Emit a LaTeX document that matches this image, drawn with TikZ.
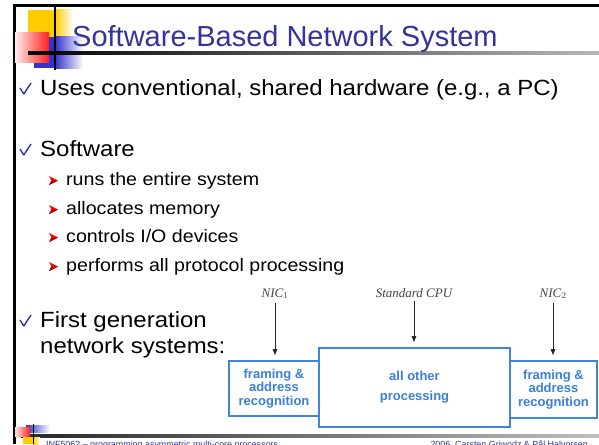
\documentclass[tikz,border=0pt]{standalone}
\usepackage{fontspec}
\setmainfont{Liberation Sans}
\newfontfamily\bodyfont[FakeStretch=1.09]{Liberation Sans}
\newfontfamily\labelfont{Liberation Serif}
\usetikzlibrary{arrows.meta,calc}
\definecolor{titleblue}{HTML}{333399}
\definecolor{logoyellow}{HTML}{FFCC00}
\definecolor{logoblue}{HTML}{3333CC}
\definecolor{logored}{HTML}{FF2020}
\definecolor{checkblue}{HTML}{3333AA}
\definecolor{boxblue}{HTML}{3D86DA}
\definecolor{boxtext}{HTML}{3A80D6}
\definecolor{labelgray}{HTML}{444444}
\tikzset{
  body/.style={anchor=base west, inner sep=0pt, font=\bodyfont\fontsize{22}{26}\selectfont},
  subbody/.style={anchor=base west, inner sep=0pt, font=\bodyfont\fontsize{18}{22}\selectfont},
  unitbox/.style={draw=boxblue, line width=1.8pt, fill=white, align=center,
    text=boxtext, font=\bfseries\fontsize{13}{13.8}\selectfont, inner sep=0pt},
  niclabel/.style={anchor=base, inner sep=0pt, text=labelgray,
    font=\labelfont\itshape\fontsize{13}{14}\selectfont},
  feed/.style={draw=black!85, line width=0.8pt, -{Triangle[length=6pt,width=4.5pt]}},
  footertext/.style={anchor=base west, inner sep=0pt, text=titleblue,
    font=\fontsize{8.9}{10}\selectfont},
}
% checkmark bullet at base point
\newcommand{\checkbullet}[2]{%
  \draw[checkblue, line width=1.4pt, line join=round] (#1,#2-7) -- (#1+3.8,#2-1) -- (#1+11,#2-12);}
% red arrowhead sub-bullet
\newcommand{\arrowbullet}[2]{%
  \fill[red] (#1,#2-9) -- (#1+9,#2-4.5) -- (#1,#2) -- (#1+2.5,#2-4.5) -- cycle;
  \fill[red!70!black] (#1+2.5,#2-4.5) -- (#1+9,#2-4.5) -- (#1,#2) -- cycle;}
\begin{document}
\begin{tikzpicture}[x=1pt,y=-1pt]
\useasboundingbox (0,0) rectangle (599,444);
\begin{scope}
\clip (0,0) rectangle (599,444);
\fill[white] (0,0) rectangle (599,444);

% slide frame
\fill[black] (13,4.5) rectangle (599,7);
\fill[black] (13,4.5) rectangle (15.5,444);

% title logo
\fill[logoyellow] (28,10) rectangle (55,37);
\shade[left color=logoyellow, right color=white] (55,10) rectangle (73,37);
\fill[logoblue] (34,37) rectangle (55,68);
\shade[left color=logoblue, right color=white] (55,37) rectangle (83,68);
\shade[left color=red!8, right color=logored] (15,33) rectangle (49,62);
\shade[left color=black, right color=black!28] (28,52) rectangle (599,55);
\fill[black] (54.3,7) rectangle (56,70);

% title
\node[anchor=base west, inner sep=0pt, text=titleblue, font=\fontsize{29}{32}\selectfont]
  (title) at (72,47) {Software-Based Network System};

% bullets
\checkbullet{20}{95}
\node[body] (b1) at (40,95) {Uses conventional, shared hardware (e.g., a PC)};
\checkbullet{20}{156}
\node[body] (b2) at (40,156) {Software};
\arrowbullet{49}{185}
\node[subbody] (s1) at (66,185) {runs the entire system};
\arrowbullet{49}{214}
\node[subbody] (s2) at (66,214) {allocates memory};
\arrowbullet{49}{242}
\node[subbody] (s3) at (66,242) {controls I/O devices};
\arrowbullet{49}{271}
\node[subbody] (s4) at (66,271) {performs all protocol processing};
\checkbullet{20}{327}
\node[body] (b3) at (40,327) {First generation};
\node[body] (b3b) at (40,353) {network systems:};

% first generation system: two NICs around the CPU
\node[unitbox, minimum width=191pt, minimum height=79pt] (cpu) at (414.5,387.5)
  {all other\\[6pt]processing};
\node[unitbox, minimum width=90pt, minimum height=55pt] (nicl) at (274,388.5)
  {framing \&\\address\\recognition};
\node[unitbox, minimum width=87pt, minimum height=57pt] (nicr) at (553.5,389.5)
  {framing \&\\address\\recognition};
\node[niclabel] (lnicl) at (275,297) {NIC$_1$};
\node[niclabel] (lcpu) at (414,297) {Standard CPU};
\node[niclabel] (lnicr) at (553,297) {NIC$_2$};
\draw[feed, shorten <=4pt, shorten >=5pt] (lnicl.south) -- (lnicl.south |- nicl.north);
\draw[feed, shorten <=4pt, shorten >=5pt] (lcpu.south) -- (lcpu.south |- cpu.north);
\draw[feed, shorten <=4pt, shorten >=5pt] (lnicr.south) -- (lnicr.south |- nicr.north);

% footer
\shade[left color=black!85, right color=black!25] (21,434) rectangle (599,437);
\shade[left color=logoblue, right color=white] (26,425) rectangle (50,432);
\shade[left color=red!10, right color=logored] (15,427) rectangle (30,436);
\fill[logoyellow] (23,437) rectangle (33,444);
\shade[left color=logoyellow, right color=white] (33,437) rectangle (40,444);
\fill[black] (32.5,424) rectangle (34,444);
\node[footertext] (fl) at (46,447.5) {INF5062 -- programming asymmetric multi-core processors};
\node[footertext, anchor=base east] (fr) at (588,447.5) {2006, Carsten Griwodz \& Pål Halvorsen};
\end{scope}
\end{tikzpicture}
\end{document}
